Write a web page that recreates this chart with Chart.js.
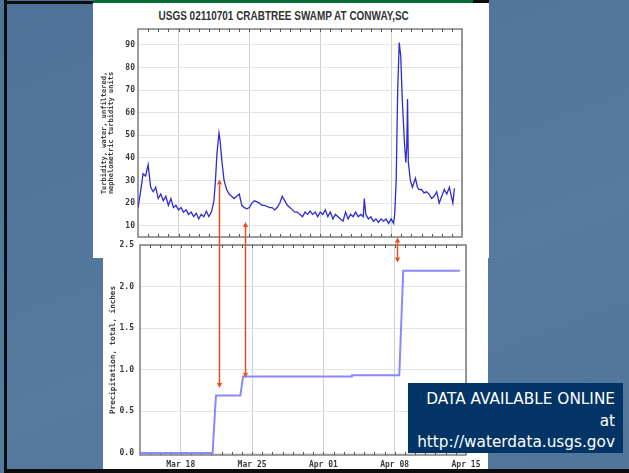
<!DOCTYPE html>
<html lang="en">
<head>
<meta charset="UTF-8">
<title>Crabtree Swamp turbidity and rainfall</title>
<style>
  * { box-sizing: border-box; margin: 0; padding: 0; }
  html, body { width: 629px; height: 473px; overflow: hidden; }
  body {
    position: relative;
    background: #4e7299;
    background-image: linear-gradient(160deg, rgba(255,255,255,0.0) 0%, rgba(255,255,255,0.05) 60%, rgba(255,255,255,0.02) 100%);
    font-family: 'DejaVu Sans', sans-serif;
  }
  .abs { position: absolute; }
  #frameLeft { left: 4px; top: 0; width: 3px; height: 473px; background: #0d0d0d; }
  #frameTop { left: 4px; top: 1px; width: 90px; height: 3px; background: #0d0d0d; }
  #frameBottom { left: 4px; top: 469px; width: 625px; height: 4px; background: #0d0d0d; }
  #greenBar { left: 93px; top: 0; width: 380px; height: 3px; background: #0b6a3a; }
  #blackBar { left: 473px; top: 0; width: 16px; height: 3px; background: #0d0d0d; }
  #whiteTop { left: 93px; top: 3px; width: 396px; height: 255px; background: #fff; }
  #whiteBottom { left: 103px; top: 258px; width: 385px; height: 211px; background: #fff; }
  #title {
    left: 93px; top: 9px; width: 381px; text-align: center;
    font: bold 12px 'Liberation Sans', Arial, sans-serif; color: #333;
  }
  #title span { display: inline-block; transform: scaleX(0.83); white-space: nowrap; }
  #upper { left: 93px; top: 0; }
  #lower { left: 103px; top: 240px; }
  #arrows { left: 0; top: 0; pointer-events: none; }
  #note {
    left: 408px; top: 383px; width: 215px; height: 70px;
    background: #033466; color: #fff; text-align: right;
    font-size: 15.3px; line-height: 21.5px; padding: 6px 8px 0 0;
  }
</style>
</head>
<body>
  <div class="abs" id="frameLeft"></div>
  <div class="abs" id="frameTop"></div>
  <div class="abs" id="frameBottom"></div>
  <div class="abs" id="greenBar"></div>
  <div class="abs" id="blackBar"></div>
  <div class="abs" id="whiteTop"></div>
  <div class="abs" id="whiteBottom"></div>
  <div class="abs" id="title"><span>USGS 02110701 CRABTREE SWAMP AT CONWAY,SC</span></div>
  <canvas class="abs" id="upper" width="396" height="258"></canvas>
  <canvas class="abs" id="lower" width="385" height="230"></canvas>
  <canvas class="abs" id="arrows" width="629" height="473"></canvas>
  <div class="abs" id="note">DATA AVAILABLE ONLINE<br>at<br>http://waterdata.usgs.gov</div>

<script src="https://cdn.jsdelivr.net/npm/chart.js@4.4.1/dist/chart.umd.min.js"></script>
<script>
// days counted from Mar 14 (00:00)
const turbDays = [
  0, 0.25, 0.5, 0.75,
  1, 1.25, 1.5, 1.75,
  2, 2.25, 2.5, 2.75,
  3, 3.25, 3.5, 3.75,
  4, 4.25, 4.5, 4.75,
  5, 5.25, 5.5, 5.75,
  6, 6.25, 6.5, 6.75,
  7, 7.25, 7.5, 7.65, 7.8,
  8, 8.1, 8.3, 8.5, 8.75,
  9, 9.25, 9.5, 9.75,
  10, 10.25, 10.5, 10.75,
  11, 11.25, 11.5, 11.75,
  12, 12.25, 12.5, 12.75,
  13, 13.25, 13.5, 13.75,
  14, 14.25, 14.5, 14.75,
  15, 15.25, 15.5, 15.75,
  16, 16.25, 16.5, 16.75,
  17, 17.25, 17.5, 17.75,
  18, 18.25, 18.5, 18.75,
  19, 19.25, 19.5, 19.75,
  20, 20.25, 20.5, 20.75,
  21, 21.25, 21.5, 21.75,
  22, 22.25, 22.35, 22.5, 22.75,
  23, 23.25, 23.5, 23.75,
  24, 24.25, 24.5, 24.75,
  25, 25.25, 25.35, 25.5, 25.65, 25.8, 25.95,
  26.1, 26.3, 26.45, 26.55, 26.62, 26.7, 26.9,
  27.1, 27.25, 27.4, 27.6, 27.75,
  28, 28.25, 28.5, 28.75,
  29, 29.25, 29.5, 29.75,
  30, 30.25, 30.5, 30.75,
  31, 31.1, 31.25
];
const turbValues = [
  18, 25, 33, 32,
  37, 27, 25, 27,
  22, 24, 21, 23,
  19, 22, 18, 19,
  17, 18, 16, 17,
  15, 16, 14, 15.5,
  13, 15, 14, 16.5,
  14, 16, 21, 30, 42,
  51, 48, 38, 30, 26,
  24, 23, 22, 23,
  24, 19, 18, 17.5,
  18, 20, 21, 20.5,
  20, 19, 19, 18.5,
  18, 18, 17, 18,
  20, 23, 21, 19,
  18, 17, 16, 16,
  15, 14, 16, 15,
  16.5, 15, 16, 14,
  16, 15, 17, 14,
  16, 13, 15, 14,
  13, 12, 16, 13,
  15, 14, 16, 14,
  15, 14, 22, 15, 13,
  14, 12, 13, 11.5,
  13, 12, 13, 11,
  13, 11, 15, 30, 70, 91, 85,
  66, 48, 38, 45, 66, 38, 30,
  27, 29, 31, 27, 26,
  26, 24.5, 25, 24,
  22, 23, 25, 20,
  23, 26, 24, 27,
  22, 20, 26.5
];

const precipDays   = [0, 7.13, 7.36, 7.46, 9.85, 10.12, 20.77, 20.8, 25.45, 25.84, 31.4];
const precipValues = [0, 0,    0.5,  0.69, 0.69, 0.92,  0.92,  0.935, 0.935, 2.19, 2.19];

const weekDays = [4, 11, 18, 25, 32];
const weekLabels = ['Mar 18', 'Mar 25', 'Apr 01', 'Apr 08', 'Apr 15'];
const turbTicks = [10, 20, 30, 40, 50, 60, 70, 80, 90];
const precipTicks = [0, 0.5, 1.0, 1.5, 2.0, 2.5];

// red arrows: day, turbidity end, precipitation end
const arrowDays = [8.0, 10.53, 25.56];
const arrowTurb = [30.4, 11.6, 4.8];
const arrowPrecip = [0.78, 0.905, 2.29];

const tickFont = { family: 'DejaVu Sans Mono', size: 8, weight: 'bold' };

const framePlugin = {
  id: 'frame',
  beforeDatasetsDraw(chart) {
    const { ctx, chartArea: a, scales: { x } } = chart;
    ctx.save();
    ctx.strokeStyle = '#7c7c7c';
    ctx.lineWidth = 1.5;
    ctx.strokeRect(a.left, a.top, a.width, a.height);
    ctx.beginPath();
    ctx.strokeStyle = '#555';
    ctx.lineWidth = 1;
    for (let d = 1; d < 32; d++) {
      const px = Math.round(x.getPixelForValue(d)) + 0.5;
      ctx.moveTo(px, a.top); ctx.lineTo(px, a.top + 3);
      ctx.moveTo(px, a.bottom); ctx.lineTo(px, a.bottom - 3);
    }
    ctx.stroke();
    ctx.restore();
  }
};

function noPad(s) { s.paddingLeft = 0; s.paddingRight = 0; s.paddingTop = 0; s.paddingBottom = 0; }

const upperChart = new Chart(document.getElementById('upper'), {
  type: 'line',
  data: {
    datasets: [{
      data: turbDays.map((d, i) => ({ x: d, y: turbValues[i] })),
      borderColor: '#2d2dd2',
      borderWidth: 1.3,
      pointRadius: 0,
      tension: 0
    }]
  },
  options: {
    responsive: false,
    animation: false,
    layout: { padding: { left: 0, right: 27, top: 29, bottom: 21 } },
    plugins: { legend: { display: false }, tooltip: { enabled: false } },
    scales: {
      x: {
        type: 'linear', min: 0, max: 32,
        afterBuildTicks: s => { s.ticks = weekDays.map(v => ({ value: v })); },
        afterFit: s => { s.height = 0; noPad(s); },
        ticks: { display: false },
        grid: { color: '#cfcfcf', drawTicks: false },
        border: { display: false }
      },
      y: {
        min: 5, max: 97,
        afterBuildTicks: s => { s.ticks = turbTicks.map(v => ({ value: v })); },
        afterFit: s => { s.width = 45; noPad(s); },
        ticks: { font: tickFont, color: '#3a3a3a', padding: 3 },
        grid: { color: '#e3e3e3', drawTicks: false },
        border: { display: false },
        title: {
          display: true,
          text: ['Turbidity, water, unfiltered,', 'nephelometric turbidity units'],
          font: { family: 'DejaVu Sans Mono', size: 7, weight: 'bold', lineHeight: '7px' },
          color: '#3a3a3a',
          padding: { top: 8, bottom: 0 }
        }
      }
    }
  },
  plugins: [framePlugin]
});

const lowerChart = new Chart(document.getElementById('lower'), {
  type: 'line',
  data: {
    datasets: [{
      data: precipDays.map((d, i) => ({ x: d, y: precipValues[i] })),
      borderColor: '#8888ff',
      borderWidth: 2,
      pointRadius: 0,
      tension: 0
    }]
  },
  options: {
    responsive: false,
    animation: false,
    layout: { padding: { left: 0, right: 22, top: 5, bottom: 0 } },
    plugins: { legend: { display: false }, tooltip: { enabled: false } },
    scales: {
      x: {
        type: 'linear', min: 0, max: 32,
        afterBuildTicks: s => { s.ticks = weekDays.map(v => ({ value: v })); },
        afterFit: s => { s.height = 15; noPad(s); },
        ticks: {
          font: tickFont, color: '#3a3a3a', padding: 5, maxRotation: 0,
          callback: v => weekLabels[weekDays.indexOf(v)]
        },
        grid: { color: '#cfcfcf', drawTicks: false },
        border: { display: false }
      },
      y: {
        min: -0.024, max: 2.5,
        afterBuildTicks: s => { s.ticks = precipTicks.map(v => ({ value: v })); },
        afterFit: s => { s.width = 37; noPad(s); },
        ticks: { font: tickFont, color: '#3a3a3a', padding: 6, callback: v => v.toFixed(1) },
        grid: { color: '#e3e3e3', drawTicks: false },
        border: { display: false },
        title: {
          display: true,
          text: 'Precipitation, total, inches',
          font: { family: 'DejaVu Sans Mono', size: 7.6, weight: 'bold', lineHeight: '7px' },
          color: '#3a3a3a',
          padding: { top: 7, bottom: 0 }
        }
      }
    }
  },
  plugins: [framePlugin]
});

// arrows linking the two graphs, placed through both charts' scales
const upperBox = { left: 93, top: 0 };
const lowerBox = { left: 103, top: 240 };
const actx = document.getElementById('arrows').getContext('2d');
actx.strokeStyle = '#ee4a22';
actx.fillStyle = '#ee4a22';
actx.lineWidth = 1.5;
arrowDays.forEach((d, i) => {
  const x = Math.round(upperChart.scales.x.getPixelForValue(d) + upperBox.left) + 0.5;
  const y1 = upperChart.scales.y.getPixelForValue(arrowTurb[i]) + upperBox.top;
  const y2 = lowerChart.scales.y.getPixelForValue(arrowPrecip[i]) + lowerBox.top;
  const h = 5, w = 2.6;
  actx.beginPath();
  actx.moveTo(x, y1 + h); actx.lineTo(x, y2 - h);
  actx.stroke();
  actx.beginPath();
  actx.moveTo(x, y1); actx.lineTo(x - w, y1 + h); actx.lineTo(x + w, y1 + h); actx.closePath();
  actx.fill();
  actx.beginPath();
  actx.moveTo(x, y2); actx.lineTo(x - w, y2 - h); actx.lineTo(x + w, y2 - h); actx.closePath();
  actx.fill();
});
</script>
</body>
</html>
